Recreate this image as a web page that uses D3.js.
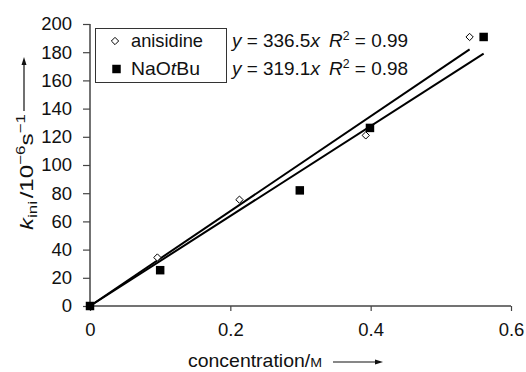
<!DOCTYPE html>
<html>
<head>
<meta charset="utf-8">
<script src="https://cdn.jsdelivr.net/npm/d3@7"></script>
<style>
  html, body { margin: 0; padding: 0; background: #fff; }
  svg { display: block; }
  text { font-family: "Liberation Sans", Arial, sans-serif; fill: #111; }
</style>
</head>
<body>
<svg id="chart" width="526" height="372"></svg>
<script>
// Initial rate vs. concentration for two reagents
const seriesNames = ["anisidine", "NaOtBu"];
const anisidineX = [0, 0.096, 0.213, 0.393, 0.541];
const anisidineY = [0, 34.4, 75.4, 121, 190.8];
const naotbuX = [0, 0.1, 0.299, 0.399, 0.561];
const naotbuY = [0, 25.4, 82, 126.3, 190.8];
const slopes = [336.5, 319.1];
const rSquared = [0.99, 0.98];
const xTicks = [0, 0.2, 0.4, 0.6];
const yTicks = [0, 20, 40, 60, 80, 100, 120, 140, 160, 180, 200];

const svg = d3.select("#chart");
svg.append("rect").attr("width", 526).attr("height", 372).attr("fill", "#fff");

const x = d3.scaleLinear().domain([0, 0.6]).range([90, 511]);
const y = d3.scaleLinear().domain([0, 200]).range([306, 24]);

const FS = 18.5;
const axisColor = "#444";

// Stretch a text element horizontally to a given length
function fitWidth(sel, len) {
  sel.attr("textLength", len).attr("lengthAdjust", "spacingAndGlyphs");
}

// Axes
const gx = svg.append("g").attr("transform", `translate(0,${y(0)})`)
  .call(d3.axisBottom(x).tickValues(xTicks).tickSize(5).tickPadding(12)
    .tickFormat(d => d === 0 ? "0" : d3.format(".1f")(d)));
const gy = svg.append("g").attr("transform", `translate(${x(0)},0)`)
  .call(d3.axisLeft(y).tickValues(yTicks).tickSize(7).tickPadding(11));
[gx, gy].forEach(g => {
  g.select(".domain").attr("stroke", axisColor).attr("stroke-width", 1.5);
  g.selectAll(".tick line").attr("stroke", axisColor).attr("stroke-width", 1.2);
  g.selectAll(".tick text").attr("font-size", FS).attr("fill", "#111")
    .attr("font-family", "Liberation Sans, Arial, sans-serif");
});
gx.select(".domain").attr("d", `M${x(0)},0H${x(0.6)}`);
gy.select(".domain").attr("d", `M0,${y(0)}V${y(200)}`);

// Regression lines y = slope * x
const series = [
  { xs: anisidineX, ys: anisidineY },
  { xs: naotbuX, ys: naotbuY }
];
series.forEach((s, i) => {
  const xEnd = d3.max(s.xs);
  svg.append("line")
    .attr("x1", x(0)).attr("y1", y(0))
    .attr("x2", x(xEnd)).attr("y2", y(slopes[i] * xEnd))
    .attr("stroke", "#000").attr("stroke-width", 2);
});

// Markers
const diamond = d3.symbol().type(d3.symbolDiamond2).size(34);
const square = d3.symbol().type(d3.symbolSquare).size(72);
svg.append("g").selectAll("path")
  .data(anisidineX.map((v, i) => [v, anisidineY[i]]))
  .join("path")
  .attr("d", diamond)
  .attr("transform", d => `translate(${x(d[0])},${y(d[1])})`)
  .attr("fill", "#fff").attr("stroke", "#000").attr("stroke-width", 1);
svg.append("g").selectAll("path")
  .data(naotbuX.map((v, i) => [v, naotbuY[i]]))
  .join("path")
  .attr("d", square)
  .attr("transform", d => `translate(${x(d[0])},${y(d[1])})`)
  .attr("fill", "#000");

// Legend
const legend = svg.append("g");
legend.append("rect").attr("x", 95.5).attr("y", 28.5).attr("width", 131).attr("height", 54)
  .attr("fill", "#fff").attr("stroke", "#333").attr("stroke-width", 1);
legend.append("path").attr("d", diamond).attr("transform", "translate(115,41)")
  .attr("fill", "#fff").attr("stroke", "#000");
legend.append("path").attr("d", square).attr("transform", "translate(116.5,69)")
  .attr("fill", "#000");
const l1 = legend.append("text").attr("x", 131).attr("y", 47).attr("font-size", FS).text(seriesNames[0]);
fitWidth(l1, 72);
const l2 = legend.append("text").attr("x", 131).attr("y", 75).attr("font-size", FS);
l2.append("tspan").text("NaO");
l2.append("tspan").attr("font-style", "italic").text("t");
l2.append("tspan").text("Bu");
fitWidth(l2, 69);

// Fit equations
[47, 75].forEach((by, i) => {
  const t = svg.append("text").attr("x", 232).attr("y", by).attr("font-size", FS);
  t.append("tspan").attr("font-style", "italic").text("y");
  t.append("tspan").text(` = ${d3.format(".1f")(slopes[i])}`);
  t.append("tspan").attr("font-style", "italic").text("x");
  t.append("tspan").attr("font-style", "italic").attr("dx", 9).text("R");
  t.append("tspan").attr("font-size", 12).attr("dy", -7).text("2");
  t.append("tspan").attr("dy", 7).text(` = ${d3.format(".2f")(rSquared[i])}`);
  fitWidth(t, 176);
});

// X axis title
const xt = svg.append("text").attr("x", 188).attr("y", 367).attr("font-size", FS);
xt.append("tspan").text("concentration/");
xt.append("tspan").attr("font-size", 13.5).text("M");
fitWidth(xt, 134);
svg.append("line").attr("x1", 333).attr("x2", 377).attr("y1", 362).attr("y2", 362)
  .attr("stroke", "#111").attr("stroke-width", 1.2);
svg.append("path").attr("d", "M383,362 L375,359.5 L375,364.5 Z").attr("fill", "#111");

// Y axis title
const yt = svg.append("text").attr("transform", "translate(33,230) rotate(-90)").attr("font-size", FS);
yt.append("tspan").attr("font-style", "italic").text("k");
yt.append("tspan").attr("font-size", 13).attr("dy", 4).text("ini");
yt.append("tspan").attr("dy", -4).attr("dx", 2).text("/10");
yt.append("tspan").attr("font-size", 13).attr("dy", -8).text("\u22126");
yt.append("tspan").attr("dy", 8).text("s");
yt.append("tspan").attr("font-size", 13).attr("dy", -8).text("\u22121");
fitWidth(yt, 116);
svg.append("line").attr("x1", 24).attr("x2", 24).attr("y1", 111).attr("y2", 63)
  .attr("stroke", "#111").attr("stroke-width", 1.2);
svg.append("path").attr("d", "M24,57 L21.5,65 L26.5,65 Z").attr("fill", "#111");
</script>
</body>
</html>
